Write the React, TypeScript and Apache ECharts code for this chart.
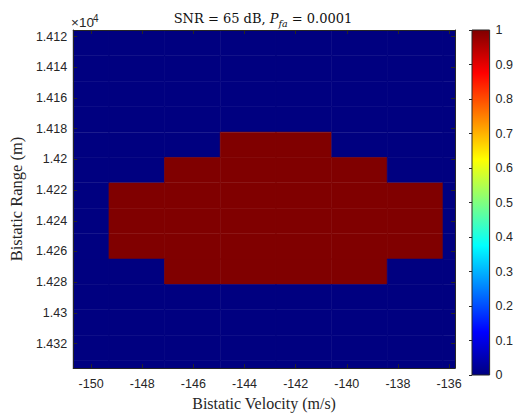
import React, { useEffect, useRef } from "react";
import * as echarts from "echarts";

// Cell centres of the detection map
const velocity = [-150.39, -148.21, -146.04, -143.86, -141.68, -139.5, -137.33, -135.15];
const range = [
  14124.3, 14140.8, 14157.4, 14173.9, 14190.5, 14207.0, 14223.6, 14240.1, 14256.7, 14273.2,
  14289.8, 14306.3, 14322.9, 14339.4,
];
// Detection result (rows = range cells, columns = velocity cells)
const detection = [
  [0, 0, 0, 0, 0, 0, 0, 0],
  [0, 0, 0, 0, 0, 0, 0, 0],
  [0, 0, 0, 0, 0, 0, 0, 0],
  [0, 0, 0, 0, 0, 0, 0, 0],
  [0, 0, 0, 1, 1, 0, 0, 0],
  [0, 0, 1, 1, 1, 1, 0, 0],
  [0, 1, 1, 1, 1, 1, 1, 0],
  [0, 1, 1, 1, 1, 1, 1, 0],
  [0, 1, 1, 1, 1, 1, 1, 0],
  [0, 0, 1, 1, 1, 1, 0, 0],
  [0, 0, 0, 0, 0, 0, 0, 0],
  [0, 0, 0, 0, 0, 0, 0, 0],
  [0, 0, 0, 0, 0, 0, 0, 0],
  [0, 0, 0, 0, 0, 0, 0, 0],
];
const xLimits = [-150.7, -135.77];
const yLimits = [14115.7, 14336.0];
const xTickStep = 2;
const yTickStep = 20;
const colorbarLimits = [0, 1];
const colorbarTickStep = 0.1;

const jetStops = [
  { offset: 0, color: "#000080" },
  { offset: 0.125, color: "#0000ff" },
  { offset: 0.375, color: "#00ffff" },
  { offset: 0.625, color: "#ffff00" },
  { offset: 0.875, color: "#ff0000" },
  { offset: 1, color: "#800000" },
];

function jet(v: number): string {
  const c = (t: number) => Math.round(255 * Math.max(0, Math.min(1, t)));
  return `rgb(${c(1.5 - Math.abs(4 * v - 3))},${c(1.5 - Math.abs(4 * v - 2))},${c(
    1.5 - Math.abs(4 * v - 1)
  )})`;
}

const AXIS_COLOR = "#262626";
const SANS = "Liberation Sans";
const SERIF = "Liberation Serif";
const TITLE_SERIF = "DejaVu Serif";

const onStep = (v: number, step: number) => Math.abs(v / step - Math.round(v / step)) < 1e-6;

function buildOption() {
  const cells: number[][] = [];
  range.forEach((r, i) => velocity.forEach((v, j) => cells.push([v, r, detection[i][j]])));
  const dv = velocity[1] - velocity[0];
  const dr = range[1] - range[0];

  const xBase = {
    type: "value",
    gridIndex: 0,
    min: xLimits[0],
    max: xLimits[1],
    minInterval: xTickStep,
    maxInterval: xTickStep,
    z: 10,
    splitLine: { show: false },
    axisLine: { show: true, onZero: false, lineStyle: { color: AXIS_COLOR, width: 1 } },
    axisTick: { show: true, inside: true, length: 4, lineStyle: { color: AXIS_COLOR } },
  };
  const yBase = {
    type: "value",
    gridIndex: 0,
    inverse: true,
    min: yLimits[0],
    max: yLimits[1],
    minInterval: yTickStep,
    maxInterval: yTickStep,
    z: 10,
    splitLine: { show: false },
    axisLine: { show: true, onZero: false, lineStyle: { color: AXIS_COLOR, width: 1 } },
    axisTick: { show: true, inside: true, length: 4, lineStyle: { color: AXIS_COLOR } },
  };

  const titleTok = { fontFamily: TITLE_SERIF, fontSize: 13, fill: "#111" };

  return {
    animation: false,
    textStyle: { fontFamily: SANS },
    grid: [
      { left: 69, top: 30, width: 386, height: 344 },
      {
        left: 472,
        top: 30,
        width: 20,
        height: 345,
        show: true,
        borderColor: AXIS_COLOR,
        borderWidth: 1,
        backgroundColor: {
          type: "linear",
          x: 0,
          y: 1,
          x2: 0,
          y2: 0,
          colorStops: jetStops,
        },
      },
    ],
    xAxis: [
      {
        ...xBase,
        position: "bottom",
        name: "Bistatic Velocity (m/s)",
        nameLocation: "middle",
        nameGap: 24,
        nameTextStyle: { fontFamily: SERIF, fontSize: 16, color: AXIS_COLOR },
        axisLabel: {
          margin: 9,
          fontSize: 12.5,
          color: AXIS_COLOR,
          fontFamily: SANS,
          formatter: (v: number) => (onStep(v, xTickStep) ? String(Math.round(v)) : ""),
        },
      },
      { ...xBase, position: "top", axisLabel: { show: false } },
      { type: "value", gridIndex: 1, min: 0, max: 1, show: false },
    ],
    yAxis: [
      {
        ...yBase,
        position: "left",
        name: "Bistatic Range (m)",
        nameLocation: "middle",
        nameGap: 42,
        nameTextStyle: { fontFamily: SERIF, fontSize: 16.5, color: AXIS_COLOR },
        axisLabel: {
          margin: 6,
          fontSize: 12.5,
          color: AXIS_COLOR,
          fontFamily: SANS,
          formatter: (v: number) =>
            onStep(v, yTickStep) ? String(parseFloat((v / 1e4).toFixed(4))) : "",
        },
      },
      { ...yBase, position: "right", axisLabel: { show: false } },
      {
        type: "value",
        gridIndex: 1,
        position: "right",
        min: colorbarLimits[0],
        max: colorbarLimits[1],
        interval: colorbarTickStep,
        z: 10,
        splitLine: { show: false },
        axisLine: { show: false },
        axisTick: { show: true, inside: true, length: 3, lineStyle: { color: AXIS_COLOR } },
        axisLabel: { margin: 6, fontSize: 12.5, color: AXIS_COLOR, fontFamily: SANS },
      },
    ],
    series: [
      {
        type: "custom",
        xAxisIndex: 0,
        yAxisIndex: 0,
        data: cells,
        encode: { x: 0, y: 1 },
        z: 2,
        renderItem: (params: any, api: any) => {
          const v = api.value(0);
          const r = api.value(1);
          const z = api.value(2);
          const p1 = api.coord([v - dv / 2, r - dr / 2]);
          const p2 = api.coord([v + dv / 2, r + dr / 2]);
          const rect = {
            x: Math.min(p1[0], p2[0]),
            y: Math.min(p1[1], p2[1]),
            width: Math.abs(p2[0] - p1[0]),
            height: Math.abs(p2[1] - p1[1]),
          };
          const cs = params.coordSys;
          const clipped = echarts.graphic.clipRectByRect(rect, {
            x: cs.x,
            y: cs.y,
            width: cs.width,
            height: cs.height,
          });
          if (!clipped) return null;
          const col = jet(z);
          return {
            type: "rect",
            shape: clipped,
            style: { fill: col, stroke: col, lineWidth: 0.6 },
          };
        },
      },
    ],
    graphic: [
      {
        type: "text",
        x: 263,
        y: 18,
        style: {
          text: "{a|SNR = 65 dB, }{i|P}{sub|fa}{a| = 0.0001}",
          align: "center",
          verticalAlign: "middle",
          ...titleTok,
          lineHeight: 20,
          rich: {
            a: { ...titleTok },
            i: { ...titleTok, fontStyle: "italic" },
            sub: { ...titleTok, fontSize: 9.5, fontStyle: "italic", verticalAlign: "bottom" },
          },
        },
      },
      {
        type: "text",
        x: 71,
        y: 29,
        style: {
          text: "×10",
          font: "13.5px 'Liberation Sans'",
          verticalAlign: "bottom",
          fill: AXIS_COLOR,
        },
      },
      {
        type: "text",
        x: 93,
        y: 23,
        style: {
          text: "4",
          font: "10px 'Liberation Sans'",
          verticalAlign: "bottom",
          fill: AXIS_COLOR,
        },
      },
    ],
  };
}

export default function App() {
  const ref = useRef<HTMLDivElement>(null);
  useEffect(() => {
    const chart = echarts.init(ref.current!, null, { renderer: "svg" });
    chart.setOption(buildOption() as any);
    return () => chart.dispose();
  }, []);
  return (
    <div
      ref={ref}
      style={{ position: "fixed", left: 0, top: 0, width: 516, height: 416, background: "#fff" }}
    />
  );
}
